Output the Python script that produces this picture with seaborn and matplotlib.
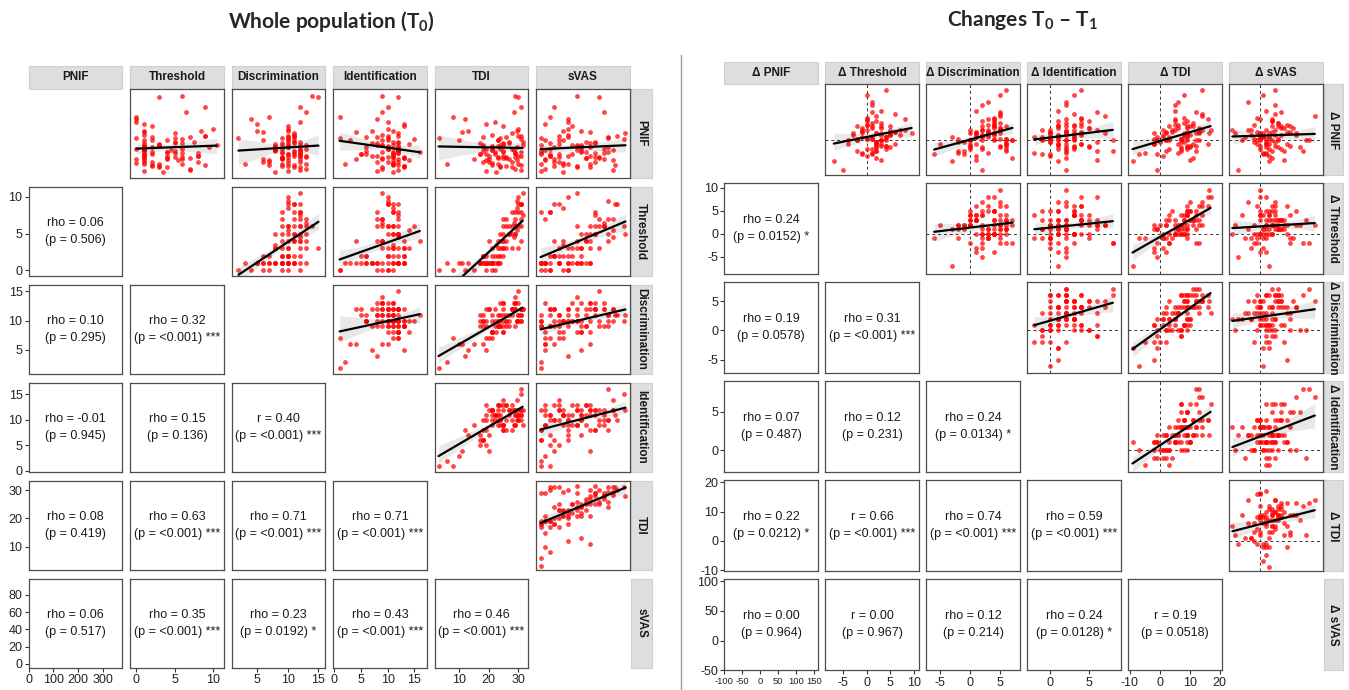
import numpy as np
import matplotlib
matplotlib.use("Agg")
import matplotlib.pyplot as plt
from matplotlib.lines import Line2D
from matplotlib.collections import PolyCollection
import seaborn as sns

# ---------------- data: whole population (T0) ----------------
t0_labels = ["PNIF", "Threshold", "Discrimination", "Identification", "TDI", "sVAS"]
t0_pnif = [120, 80, 150, 60, 200, 95, 130, 170, 70, 110,
           40, 90, 140, 250, 180, 100, 130, 75, 350, 160,
           85, 210, 115, 55, 280, 100, 145, 70, 125, 190,
           95, 150, 300, 230, 110, 175, 80, 135, 25, 90,
           160, 60, 120, 200, 85, 140, 260, 105, 30, 155,
           115, 185, 50, 130, 95, 75, 165, 345, 140, 100,
           65, 125, 170, 45, 105, 220, 90, 150, 35, 135,
           180, 70, 100, 155, 50, 120, 85, 240, 110, 60,
           140, 95, 45, 175, 125, 80, 160, 55, 195, 105]
t0_thr = [1, 0, 6, 3, 1, 8, 2, 5, 1, 4,
          7, 1, 3, 0, 9, 2, 1, 5.5, 6, 1,
          4, 10, 1, 2, 6.5, 1, 3, 8, 0, 5,
          1, 5, 9, 1, 2, 7, 4, 1, 3.5, 6,
          2, 1, 4.5, 8.5, 1, 3, 0, 6, 1, 7.5,
          5, 1, 2, 9.5, 4, 1, 6, 3, 10.5, 1,
          0, 6, 0, 4, 8, 2, 5, 1, 7, 3,
          9, 2, 1, 5, 3, 1, 7, 0, 4, 6,
          1, 8, 3, 2, 1, 6, 4, 9, 1, 5]
t0_dis = [8, 6, 11, 9, 5, 12, 10, 9, 7, 12,
          13, 9, 10, 4, 11, 12, 8, 10, 14, 6,
          9, 10, 11, 7, 13, 10, 8, 12, 9, 11,
          12, 10, 12, 5, 9, 11, 12, 10, 8, 10,
          11, 3, 12, 10, 9, 13, 7, 12, 10, 12,
          8, 11, 9, 10, 13, 7, 10, 15, 12, 10,
          10, 12, 2, 11, 9, 10, 13, 9, 12, 8,
          10, 6, 11, 11, 10, 8, 9, 12, 11, 13,
          9, 11, 12, 10, 13, 9, 10, 11, 6, 12]
t0_ide = [12, 9, 8, 11, 7, 11, 6, 10, 12, 9,
          9, 13, 11, 8, 10, 5, 12, 14, 9, 3,
          13, 10, 6, 12, 9, 11, 14, 8, 10, 12,
          7, 12, 10, 13, 11, 8, 4, 12, 11, 10,
          10, 2, 12, 11, 13, 9, 1, 11, 8, 12,
          12, 9, 13, 10, 8, 11, 15, 12, 9, 6,
          11, 10, 1, 9, 12, 13, 11, 7, 12, 10,
          12, 10, 5, 11, 13, 12, 9, 10, 16, 11,
          8, 11, 13, 6, 10, 12, 9, 11, 4, 12]
t0_tdi = [21, 15, 25, 23, 13, 31, 18, 24, 20, 25,
          29, 23, 24, 12, 30, 19, 21, 29.5, 29, 10,
          26, 30, 18, 21, 28.5, 22, 25, 28, 19, 28,
          20, 27, 31, 19, 22, 26, 20, 23, 22.5, 26,
          23, 6, 28.5, 29.5, 23, 25, 8, 29, 19, 31.5,
          25, 21, 24, 29.5, 25, 19, 31, 30, 31.5, 17,
          21, 28, 3, 24, 29, 25, 29, 17, 31, 21,
          31, 18, 17, 27, 26, 21, 25, 22, 31, 30,
          18, 30, 28, 18, 24, 27, 23, 31, 11, 29]
t0_svas = [40, 5, 60, 30, 45, 10, 15, 75, 20, 50,
           5, 20, 45, 30, 85, 10, 55, 80, 40, 5,
           50, 30, 0, 25, 70, 35, 20, 60, 10, 94,
           30, 55, 15, 5, 45, 75, 15, 40, 25, 65,
           20, 0, 80, 25, 50, 35, 10, 70, 0, 60,
           45, 30, 15, 75, 55, 5, 92, 65, 40, 0,
           25, 70, 0, 40, 0, 35, 60, 10, 80, 45,
           20, 15, 20, 50, 40, 5, 65, 30, 75, 55,
           0, 10, 55, 30, 45, 70, 25, 82, 55, 60]
t0_lims = [(0, 380), (-0.8, 11.4), (0.9, 16.1), (-0.2, 17.3), (1.7, 33.4), (-4.8, 98.7)]
t0_ticks = [[0, 100, 200, 300], [0, 5, 10], [5, 10, 15], [0, 5, 10, 15], [10, 20, 30], [0, 20, 40, 60, 80]]
t0_texts = [
    ["rho = 0.06\n(p = 0.506)"],
    ["rho = 0.10\n(p = 0.295)", "rho = 0.32\n(p = <0.001) ***"],
    ["rho = -0.01\n(p = 0.945)", "rho = 0.15\n(p = 0.136)", "r = 0.40\n(p = <0.001) ***"],
    ["rho = 0.08\n(p = 0.419)", "rho = 0.63\n(p = <0.001) ***", "rho = 0.71\n(p = <0.001) ***",
     "rho = 0.71\n(p = <0.001) ***"],
    ["rho = 0.06\n(p = 0.517)", "rho = 0.35\n(p = <0.001) ***", "rho = 0.23\n(p = 0.0192) *",
     "rho = 0.43\n(p = <0.001) ***", "rho = 0.46\n(p = <0.001) ***"],
]

# ---------------- data: changes T0 - T1 ----------------
ch_labels = ["Δ PNIF", "Δ Threshold", "Δ Discrimination", "Δ Identification", "Δ TDI", "Δ sVAS"]
ch_pnif = [-20, 30, 10, 55, -40, 25, 0, -10, 80, 15,
           45, -15, 20, -30, 60, 5, 35, 0, -50, -10,
           0, 65, -25, 15, 40, -5, 30, -35, 50, 10,
           -60, 20, -15, 100, 5, 40, -30, 25, -5, 130,
           35, -20, 10, 0, 70, 20, -45, 145, 15, -10,
           10, 50, -30, 25, -10, 85, 5, -20, 30, -85,
           -5, 20, 45, -25, 110, 0, 15, -40, 35, 60,
           25, 40, -10, 5, -55, 30, 10, 0, 20, 75,
           15, -35, 5, 55, 20, -15, 40, 30, -25, 0]
ch_thr = [2, -1, 4, 0, 1, 6, -2, 3, 1, 5,
          0, 3, -3, 2, 8, 1, -1, 4, 2, -4,
          3, 0, 1, 5, -2, 2, 7, -1, 3, 1,
          -7, 2, 4, 1, 0, 3, -2, 6, 2, 0,
          1, 5, -1, 3, 2, 9.5, 0, 4, -3, 2,
          4, 1, 2, -1, 6, 3, 0, 2, 5, -5,
          2, 3, 0, 4, 1, -2, 7, -1, 3, 0,
          -1, 5, 2, 1, 3, 0, 4, -4, 2, 6,
          3, 1, -2, 2, 5, 4, 1, 8, 0, 3]
ch_dis = [5, 2, 1, 4, -1, 3, 0, 6, 5, 4,
          3, 6, 1, -2, 4, -2, 5, 2, 7, 1,
          0, 4, 6, 3, 2, -1, 5, -2, 4, -3,
          -3, 0, 5, 2, 6, 4, 6, 1, -2, 5,
          4, 2, 3, 7, 5, 5, 1, 6, 2, -5,
          2, 5, -1, 3, 6, 1, 4, 0, 0, 2,
          6, 1, 4, 0, 3, 7, 2, -6, 5, 3,
          3, 4, 0, 6, 1, 2, 1, 4, 4, 5,
          1, 3, 5, 2, 4, 0, 6, 3, 2, 0]
ch_ide = [2, 0, 3, 5, -1, 4, 1, 2, 6, 0,
          3, 1, 0, 2, 4, -1, 5, 3, 2, 1,
          0, 4, 2, 1, 3, 6, 2, -2, 4, 1,
          1, 0, 3, 2, 1, 4, 8, 2, 0, 3,
          1, 3, -1, 2, 7, 2, 0, 4, 2, 1,
          3, 2, 6, 0, 4, 1, 3, 5, -1, 2,
          0, 4, 1, 3, 2, 8, 1, 0, 5, 2,
          2, 1, 4, 0, 6, 3, -2, 2, 7, 3,
          4, 2, 0, 1, 3, 5, 2, 6, 1, -1]
ch_tdi = [9, 1, 8, 9, -1, 13, -1, 11, 12, 9,
          6, 10, -2, 2, 16, -2, 9, 9, 11, -2,
          3, 8, 9, 9, 3, 7, 14, -5, 11, -1,
          -9, 2, 12, 5, 7, 11, 12, 9, 0, 8,
          6, 10, 1, 12, 14, 16.5, 1, 14, 1, -2,
          9, 8, 7, 2, 16, 5, 7, 7, 4, -1,
          8, 8, 5, 7, 6, 13, 10, -7, 13, 5,
          4, 10, 6, 7, 10, 5, 3, 2, 13, 14,
          8, 6, 3, 5, 12, 9, 9, 17, 3, 2]
ch_svas = [30, -15, 0, 20, 10, 45, -5, 15, 35, 60,
           -10, 25, 5, 40, 0, 15, 55, -30, 20, 10,
           20, -5, 35, 0, 50, 25, -20, 10, 30, 5,
           15, -40, 0, 25, 10, 35, 70, 20, -10, 5,
           40, 10, -25, 30, 90, 0, 15, 25, -15, 45,
           5, 30, 20, 50, -5, 10, 0, 65, 25, -35,
           10, 0, 45, 15, -20, 80, 25, 5, 35, 20,
           -5, 20, 10, 30, 40, -45, 15, 0, 60, 25,
           35, 5, -10, 20, 15, 50, 30, 10, 0, 75]
ch_lims = [(-100, 160), (-8.8, 11), (-7.3, 8.2), (-2.9, 9.0), (-10.4, 20.7), (-50, 103)]
ch_ticks = [[-100, -50, 0, 50, 100, 150], [-5, 0, 5, 10], [-5, 0, 5], [0, 5], [-10, 0, 10, 20], [-50, 0, 50, 100]]
ch_texts = [
    ["rho = 0.24\n(p = 0.0152) *"],
    ["rho = 0.19\n(p = 0.0578)", "rho = 0.31\n(p = <0.001) ***"],
    ["rho = 0.07\n(p = 0.487)", "rho = 0.12\n(p = 0.231)", "rho = 0.24\n(p = 0.0134) *"],
    ["rho = 0.22\n(p = 0.0212) *", "r = 0.66\n(p = <0.001) ***", "rho = 0.74\n(p = <0.001) ***",
     "rho = 0.59\n(p = <0.001) ***"],
    ["rho = 0.00\n(p = 0.964)", "r = 0.00\n(p = 0.967)", "rho = 0.12\n(p = 0.214)",
     "rho = 0.24\n(p = 0.0128) *", "r = 0.19\n(p = 0.0518)"],
]

# ---------------- styling ----------------
sns.set_theme(style="ticks")
NARROW = ["Liberation Sans Narrow", "Liberation Sans", "DejaVu Sans"]
plt.rcParams["font.family"] = NARROW
plt.rcParams["mathtext.fontset"] = "custom"
plt.rcParams["mathtext.rm"] = "Lato:bold"
plt.rcParams["mathtext.it"] = "Lato:bold"
plt.rcParams["mathtext.bf"] = "Lato:bold"

W, H = 1349, 690
fig = plt.figure(figsize=(W / 100, H / 100), dpi=100)


def fax(x, y, w, h):
    return fig.add_axes([x / W, 1 - (y + h) / H, w / W, h / H])


def strip(ax, text, rot):
    ax.set_facecolor("#DEDEDE")
    ax.set_xticks([])
    ax.set_yticks([])
    for s in ax.spines.values():
        s.set_color("#D0D0D0")
        s.set_linewidth(0.8)
    ax.text(0.5, 0.5, text, rotation=rot, ha="center", va="center", fontsize=8.5,
            fontweight="bold", family=["Liberation Sans", "DejaVu Sans"], color="#1a1a1a",
            transform=ax.transAxes)


def frame(ax):
    for s in ax.spines.values():
        s.set_color("#4d4d4d")
        s.set_linewidth(0.9)
        s.set_visible(True)


def draw_matrix(data, labels, lims, ticks, texts, x0, y0, cw, ch, dx, dy, sh, sw, guides,
                small_first_x=False):
    n = len(data)
    for j in range(n):
        strip(fax(x0 + j * dx, y0 - sh, cw, sh), labels[j], 0)
    for i in range(n):
        strip(fax(x0 + (n - 1) * dx + cw + 1, y0 + i * dy, sw, ch), labels[i], -90)
    for i in range(n):
        for j in range(n):
            if i == j:
                continue
            ax = fax(x0 + j * dx, y0 + i * dy, cw, ch)
            if i < j:
                if guides:
                    ax.axhline(0, ls=(0, (3, 3)), color="#333333", lw=0.7, zorder=0.5)
                    ax.axvline(0, ls=(0, (3, 3)), color="#333333", lw=0.7, zorder=0.5)
                sns.regplot(x=np.array(data[j], float), y=np.array(data[i], float), ax=ax,
                            ci=95, seed=1, n_boot=300,
                            scatter_kws=dict(s=12, color="#FF0000", alpha=0.72, linewidths=0),
                            line_kws=dict(color="black", lw=1.6))
                for coll in ax.collections:
                    if isinstance(coll, PolyCollection):
                        coll.set_alpha(0.09)
            else:
                ax.text(0.5, 0.5, texts[i - 1][j], ha="center", va="center", fontsize=9,
                        linespacing=1.55, color="#1a1a1a", transform=ax.transAxes)
            ax.set_xlim(lims[j])
            ax.set_ylim(lims[i])
            ax.set_xlabel("")
            ax.set_ylabel("")
            frame(ax)
            if j == 0:
                ax.set_yticks(ticks[i])
                ax.set_yticklabels([f"{t:g}" for t in ticks[i]])
                ax.tick_params(axis="y", length=3, width=0.8, color="#333333",
                               labelsize=9, pad=1.5, labelcolor="#222222", left=True)
            else:
                ax.set_yticks([])
            if i == n - 1:
                ax.set_xticks(ticks[j])
                ax.set_xticklabels([f"{t:g}" for t in ticks[j]])
                lsz = 6.8 if (small_first_x and j == 0) else 9
                ax.tick_params(axis="x", length=3, width=0.8, color="#333333",
                               labelsize=lsz, pad=1.5, labelcolor="#222222", bottom=True)
            else:
                ax.set_xticks([])


left_data = [t0_pnif, t0_thr, t0_dis, t0_ide, t0_tdi, t0_svas]
right_data = [ch_pnif, ch_thr, ch_dis, ch_ide, ch_tdi, ch_svas]

draw_matrix(left_data, t0_labels, t0_lims, t0_ticks, t0_texts,
            x0=28.7, y0=88.7, cw=93.5, ch=89.3, dx=101.5, dy=98, sh=22.4, sw=21, guides=False)
draw_matrix(right_data, ch_labels, ch_lims, ch_ticks, ch_texts,
            x0=724.3, y0=84.3, cw=93.4, ch=91, dx=101, dy=99, sh=22.3, sw=19.6, guides=True,
            small_first_x=True)

fig.add_artist(Line2D([681 / W, 681 / W], [1 - 55 / H, 0], color="#9a9a9a", lw=1.0))

fig.text(331 / W, 1 - 22 / H, "Whole population (T$_0$)", ha="center", va="center",
         fontsize=15, fontweight="bold", family=["Lato", "DejaVu Sans"])
fig.text(1022 / W, 1 - 20 / H, "Changes T$_0$ – T$_1$", ha="center", va="center",
         fontsize=15, fontweight="bold", family=["Lato", "DejaVu Sans"])

fig.savefig("out.png", dpi=100)
